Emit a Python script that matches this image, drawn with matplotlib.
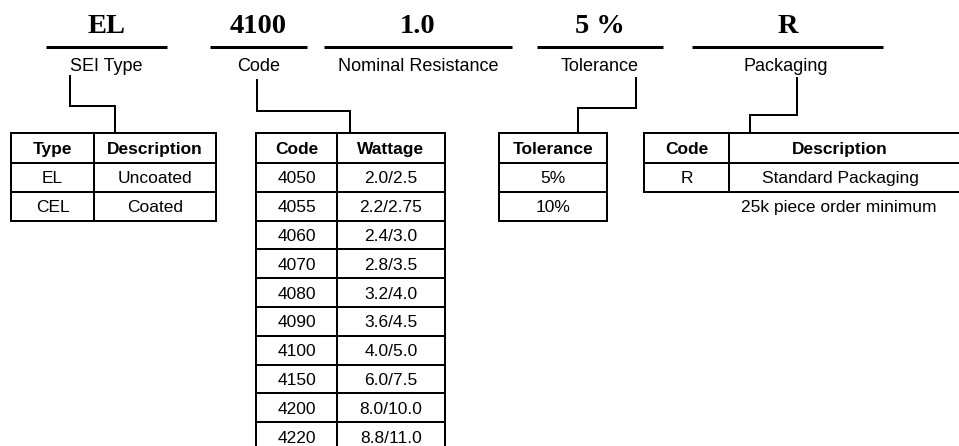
import matplotlib.pyplot as plt

# part-number fields
titles = ['EL', '4100', '1.0', '5 %', 'R']
subtitles = ['SEI Type', 'Code', 'Nominal Resistance', 'Tolerance', 'Packaging']

# tables
type_header = ['Type', 'Description']
type_rows = [['EL', 'Uncoated'], ['CEL', 'Coated']]

code_header = ['Code', 'Wattage']
code_list = ['4050', '4055', '4060', '4070', '4080', '4090', '4100', '4150', '4200', '4220']
wattage_list = ['2.0/2.5', '2.2/2.75', '2.4/3.0', '2.8/3.5', '3.2/4.0',
                '3.6/4.5', '4.0/5.0', '6.0/7.5', '8.0/10.0', '8.8/11.0']

tol_header = ['Tolerance']
tol_rows = [['5%'], ['10%']]

pack_header = ['Code', 'Description']
pack_rows = [['R', 'Standard Packaging']]
pack_note = '25k piece order minimum'

W, H = 959, 446
fig = plt.figure(figsize=(W / 100, H / 100), dpi=100)
ax = fig.add_axes([0, 0, 1, 1])
ax.set_xlim(0, W)
ax.set_ylim(H, 0)
ax.axis('off')

PX = 0.72  # points per pixel
TFS = 12.5  # table font size

# top lines, titles and subtitles
line_spans = [(46, 167), (210, 307), (324, 512), (537, 663), (692, 883)]
for (x0, x1), t, s in zip(line_spans, titles, subtitles):
    xc = (x0 + x1) / 2
    ax.plot([x0, x1], [47, 47], color='black', lw=3 * PX, solid_capstyle='butt')
    ax.text(xc, 33, t, ha='center', va='baseline', fontsize=20.5,
            family='Liberation Serif', fontweight='bold')
    ax.text(xc - (2 if s == 'Packaging' else 0), 71, s, ha='center', va='baseline',
            fontsize=13, family='Liberation Sans')

# connectors
connectors = [
    [(70, 76), (70, 106), (115, 106), (115, 133)],
    [(257, 80), (257, 111), (350, 111), (350, 133)],
    [(636, 78), (636, 108), (578, 108), (578, 133)],
    [(797, 78), (797, 115), (750, 115), (750, 133)],
]
for path in connectors:
    xs, ys = zip(*path)
    ax.plot(xs, ys, color='black', lw=2 * PX, solid_joinstyle='miter')

TOP, HDR, ROW = 133, 30, 28.8


def draw_table(xedges, header, rows, centers=None, right_open=False):
    nrows = len(rows)
    yedges = [TOP, TOP + HDR] + [TOP + HDR + ROW * (i + 1) for i in range(nrows)]
    x_right = xedges[-1]
    for y in yedges:
        ax.plot([xedges[0], x_right], [y, y], color='black', lw=2 * PX,
                solid_capstyle='projecting')
    vx = xedges[:-1] if right_open else xedges
    for x in vx:
        ax.plot([x, x], [yedges[0], yedges[-1]], color='black', lw=2 * PX,
                solid_capstyle='projecting')
    if centers is None:
        centers = [(xedges[i] + xedges[i + 1]) / 2 for i in range(len(header))]
    for xc, h in zip(centers, header):
        ax.text(xc, TOP + HDR / 2 + 6.2, h, ha='center', va='baseline',
                fontsize=TFS, family='Liberation Sans', fontweight='bold')
    for r, row in enumerate(rows):
        yc = yedges[r + 1] + ROW / 2
        for xc, v in zip(centers, row):
            ax.text(xc, yc + 6.0, v, ha='center', va='baseline',
                    fontsize=TFS, family='Liberation Sans')


draw_table([11, 94, 216], type_header, type_rows)
draw_table([256, 337, 445], code_header, list(zip(code_list, wattage_list)))
draw_table([499, 607], tol_header, tol_rows)
draw_table([644, 729, 965], pack_header, pack_rows,
           centers=[686.5, 840], right_open=True)
ax.text(839, 212, pack_note, ha='center', va='baseline', fontsize=TFS,
        family='Liberation Sans')

fig.savefig('out.png', dpi=100)
